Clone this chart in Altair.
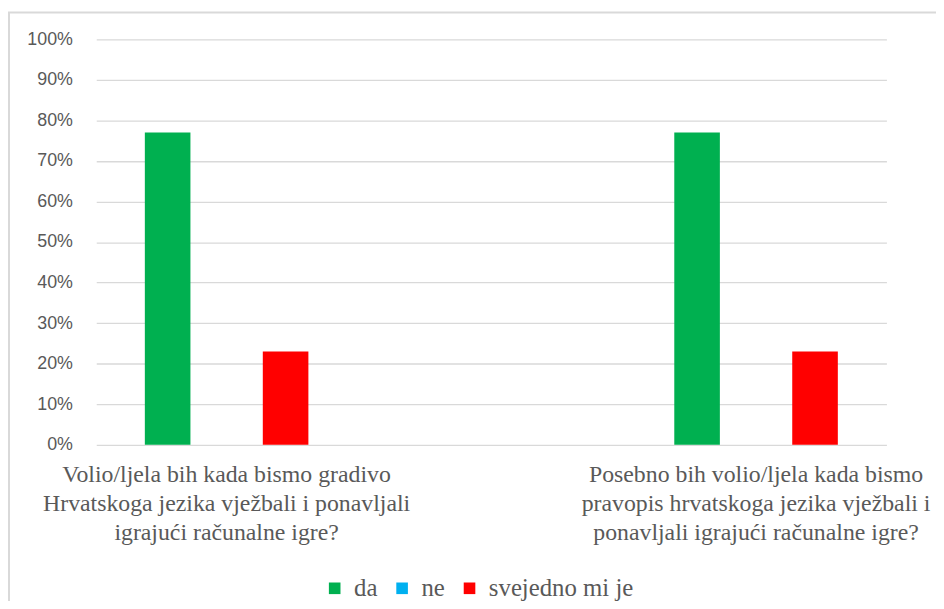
import altair as alt
import pandas as pd

categories = [
    "Volio/ljela bih kada bismo gradivo\nHrvatskoga jezika vježbali i ponavljali\nigrajući računalne igre?",
    "Posebno bih volio/ljela kada bismo\npravopis hrvatskoga jezika vježbali i\nponavljali igrajući računalne igre?",
]
series = ["da", "ne", "svejedno mi je"]
values = {
    "da": [0.77, 0.77],
    "ne": [0.0, 0.0],
    "svejedno mi je": [0.23, 0.23],
}
colors = ["#00B050", "#00B0F0", "#FF0000"]
y_ticks = [i / 10 for i in range(11)]

rows = []
for s in series:
    for c, v in zip(categories, values[s]):
        rows.append({"pitanje": c, "odgovor": s, "udio": v})
df = pd.DataFrame(rows)

W, H = 797, 409
serif = "Liberation Serif"
sans = "Liberation Sans"
grey = "#595959"

bars = alt.Chart(df).mark_bar().encode(
    x=alt.X("pitanje:N", sort=categories, title=None,
            scale=alt.Scale(paddingInner=0.5075, paddingOuter=0),
            axis=alt.Axis(labelAngle=0, domain=False, ticks=False,
                          labelExpr="split(datum.label, '\\n')",
                          labelFont=serif, labelFontSize=24, labelColor=grey,
                          labelLineHeight=29.5, labelPadding=18,
                          labelLimit=600)),
    xOffset=alt.XOffset("odgovor:N", sort=series,
                        scale=alt.Scale(paddingInner=0.227, paddingOuter=0.824)),
    y=alt.Y("udio:Q", title=None,
            scale=alt.Scale(domain=[0, 1], nice=False),
            axis=alt.Axis(values=y_ticks, format=".0%", domain=False, ticks=False,
                          labelFont=sans, labelFontSize=18, labelColor=grey,
                          labelPadding=24, gridColor="#D9D9D9", gridWidth=1.3)),
    color=alt.Color("odgovor:N", sort=series, title=None,
                    scale=alt.Scale(domain=series, range=colors),
                    legend=alt.Legend(orient="none", direction="horizontal",
                                      legendX=228, legendY=541,
                                      symbolType="square", symbolSize=137,
                                      symbolStrokeWidth=0, labelFont=serif,
                                      labelFontSize=25, labelColor=grey,
                                      labelOffset=7, columnPadding=12)),
)

border = alt.Chart(pd.DataFrame({"k": [0]})).mark_rect(
    fill=None, stroke="#D9D9D9", strokeWidth=2
).encode(
    x=alt.value(-88), x2=alt.value(W + 60),
    y=alt.value(-27), y2=alt.value(H + 200),
)

chart = alt.layer(border, bars).properties(
    width=W, height=H,
    autosize=alt.AutoSizeParams(type="none"),
    padding={"left": 89, "top": 29, "right": 50, "bottom": 155},
).configure_view(stroke=None)

chart.save("out.html", embed_options={"renderer": "svg", "actions": False})
